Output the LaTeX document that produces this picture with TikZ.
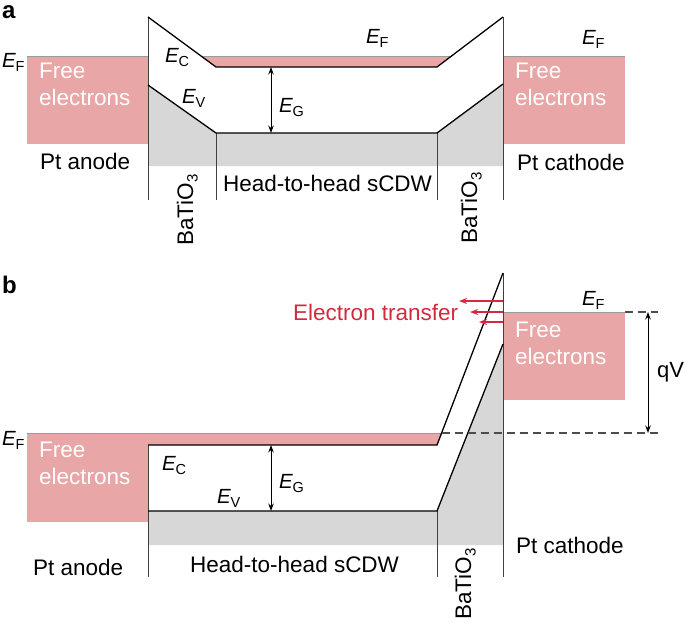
\documentclass[tikz,border=0pt]{standalone}
\usepackage{fontspec}
\setmainfont{Liberation Sans}
\usetikzlibrary{arrows.meta}
\definecolor{pinkf}{HTML}{E9A6A7}
\definecolor{grayf}{HTML}{D7D7D7}
\definecolor{topl}{HTML}{9A9A9A}
\definecolor{redt}{HTML}{D22A3E}
\newcommand\Elab[1]{{\fontsize{20.5}{20.5}\selectfont\textit{E}\kern-0.5pt\raisebox{-4pt}{\fontsize{14.5}{14.5}\selectfont #1}}}
\newcommand\bto{BaTiO\raisebox{-4.5pt}{\fontsize{15}{15}\selectfont 3}}
\begin{document}
\begin{tikzpicture}[x=1pt,y=-1pt,
 band/.style={line width=1.3pt, black, line join=miter},
 sepline/.style={line width=1pt, black!75},
 topline/.style={line width=1pt, topl},
 dashln/.style={line width=1.2pt, black!70, dash pattern=on 8pt off 5pt},
 lbl/.style={font=\fontsize{22.5}{26.5}\selectfont, inner sep=0pt, anchor=base west},
 freetxt/.style={font=\fontsize{22.5}{26.5}\selectfont, text=white, align=left, inner sep=0pt, anchor=north west},
 elab/.style={inner sep=0pt, anchor=base west},
 panel/.style={font=\fontsize{24}{24}\selectfont\bfseries, inner sep=0pt, anchor=base west},
 gap/.style={line width=1pt, {Stealth[length=7.5pt,width=5.5pt]}-{Stealth[length=7.5pt,width=5.5pt]}},
 redarr/.style={line width=1.3pt, redt, -{Stealth[length=8pt,width=6pt]}},
 ]
\useasboundingbox (0,0) rectangle (685,622);
% ---------------- panel a ----------------
\fill[pinkf] (27,56) rectangle (148,144);
\draw[topline] (27,56) -- (148,56);
\fill[pinkf] (503,56) rectangle (625,144);
\draw[topline] (503,56) -- (625,56);
\fill[pinkf] (201,56) -- (216,67) -- (437,67) -- (451.5,56) -- cycle;
\draw[topline] (201,56) -- (451.5,56);
\fill[grayf] (148,85) -- (216,133) -- (437,133) -- (503,84) -- (503,166) -- (148,166) -- cycle;
\draw[sepline] (148,17) -- (148,200);
\draw[sepline] (216,133) -- (216,200);
\draw[sepline] (437,133) -- (437,200);
\draw[sepline] (503,17) -- (503,200);
\draw[band] (148,17) -- (216,67) -- (437,67) -- (503,17);
\draw[band] (148,85) -- (216,133) -- (437,133) -- (503,84);
\coordinate (ga1) at (271,67);
\coordinate (ga2) at (271,133);
\draw[gap] (ga1) -- (ga2);
\node[panel] (pa) at (2,18) {a};
\node[elab] (efa1) at (2,67) {\Elab{F}};
\node[elab] (eca) at (165,62) {\Elab{C}};
\node[elab] (eva) at (182,103) {\Elab{V}};
\node[elab] (ega) at (279,112) {\Elab{G}};
\node[elab] (efa2) at (366,43) {\Elab{F}};
\node[elab] (efa3) at (582,44) {\Elab{F}};
\node[freetxt] (fea1) at (39,63) {Free\\electrons};
\node[freetxt] (fea2) at (515,63) {Free\\electrons};
\node[lbl] (pta) at (40,169) {Pt anode};
\node[lbl] (ptc) at (517,170) {Pt cathode};
\node[lbl] (hha) at (223,191) {Head-to-head sCDW};
\node[lbl, rotate=90] (bta1) at (193,246) {\bto};
\node[lbl, rotate=90] (bta2) at (477,244) {\bto};
% ---------------- panel b ----------------
\fill[pinkf] (27,433) rectangle (148,522);
\fill[pinkf] (148,433) -- (441.6,433) -- (437,445) -- (148,445) -- cycle;
\draw[topline] (27,433) -- (441.6,433);
\fill[grayf] (148,511) -- (437,511) -- (503,344) -- (503,545) -- (148,545) -- cycle;
\fill[pinkf] (503,312) rectangle (625,400);
\draw[topline] (503,312) -- (625,312);
\draw[sepline] (148,445) -- (148,577);
\draw[sepline] (437,511) -- (437,577);
\draw[sepline] (503,273) -- (503,577);
\draw[band] (148,445) -- (437,445) -- (503,273);
\draw[band] (148,511) -- (437,511) -- (503,344);
\coordinate (d1a) at (441.6,433);
\coordinate (d1b) at (658,433);
\coordinate (d2a) at (625,312);
\coordinate (d2b) at (658,312);
\draw[dashln] (d1a) -- (d1b);
\draw[dashln] (d2a) -- (d2b);
\coordinate (gb1) at (271,445);
\coordinate (gb2) at (271,511);
\draw[gap] (gb1) -- (gb2);
\coordinate (q1) at (648,312);
\coordinate (q2) at (648,433);
\draw[gap] (q1) -- (q2);
\coordinate (r1a) at (503,301);
\coordinate (r1b) at (459,301);
\coordinate (r2a) at (503,312);
\coordinate (r2b) at (470,312);
\coordinate (r3a) at (503,322);
\coordinate (r3b) at (479,322);
\draw[redarr] (r1a) -- (r1b);
\draw[redarr] (r2a) -- (r2b);
\draw[redarr] (r3a) -- (r3b);
\node[panel] (pb) at (2,293) {b};
\node[elab] (efb1) at (2,445) {\Elab{F}};
\node[elab] (ecb) at (162,470) {\Elab{C}};
\node[elab] (evb) at (217,503) {\Elab{V}};
\node[elab] (egb) at (279,488) {\Elab{G}};
\node[elab] (efb2) at (582,305) {\Elab{F}};
\node[freetxt] (feb1) at (39,442) {Free\\electrons};
\node[freetxt] (feb2) at (515,322) {Free\\electrons};
\node[lbl, text=redt] (et) at (293,320) {Electron transfer};
\node[lbl, font=\fontsize{22}{26}\selectfont] (qv) at (657,377) {qV};
\node[lbl] (ptb) at (33,575) {Pt anode};
\node[lbl] (hhb) at (190,572) {Head-to-head sCDW};
\node[lbl] (ptcb) at (516,553) {Pt cathode};
\node[lbl, rotate=90] (btb) at (471,620) {\bto};
\end{tikzpicture}
\end{document}
